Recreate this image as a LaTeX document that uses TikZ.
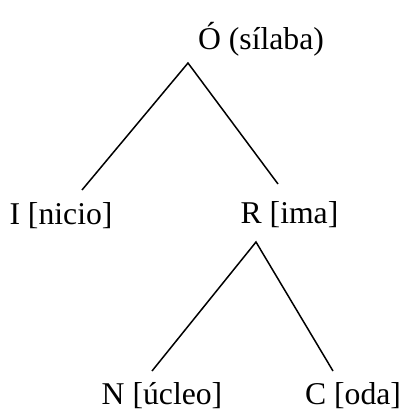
\documentclass[tikz,border=0pt]{standalone}
\usepackage{fontspec}
\setmainfont{Liberation Serif}
\begin{document}
\begin{tikzpicture}[x=1pt,y=-1pt,
  lbl/.style={anchor=base,inner sep=0pt,font=\fontsize{31.7}{38}\selectfont},
  edge/.style={line width=1.5pt,line cap=butt}]
\useasboundingbox (0,0) rectangle (403,410);
\node[lbl] (o) at (261,49) {Ó (sílaba)};
\node[lbl] (i) at (61,224) {I [nicio]};
\node[lbl] (r) at (289.5,223) {R [ima]};
\node[lbl] (n) at (162,404) {N [úcleo]};
\node[lbl] (c) at (353,404) {C [oda]};
\coordinate (oTop) at (188,63);
\coordinate (iEnd) at (82,190);
\coordinate (rEnd) at (278,184);
\coordinate (rTop) at (256,242);
\coordinate (nEnd) at (152,371);
\coordinate (cEnd) at (333,371);
\draw[edge] (iEnd) -- (oTop) -- (rEnd);
\draw[edge] (nEnd) -- (rTop) -- (cEnd);
\end{tikzpicture}
\end{document}
